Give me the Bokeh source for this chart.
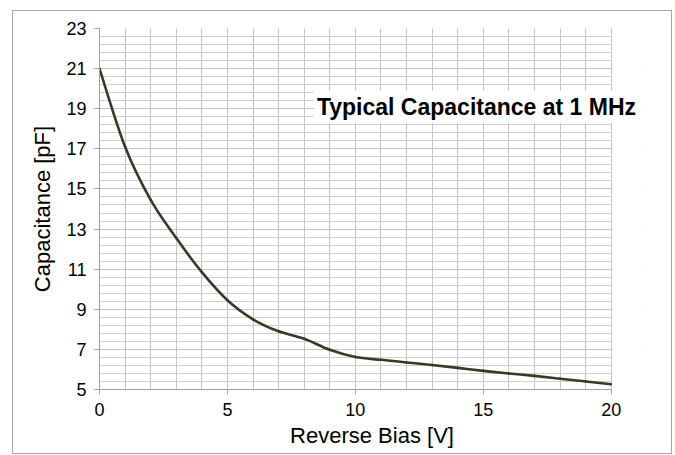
from bokeh.plotting import figure
from bokeh.models import Range1d, FixedTicker, Label, BoxAnnotation, Title
from bokeh.embed import file_html
from bokeh.resources import INLINE

# data (Excel-style smoothed line through these points)
bias_v = [0, 1, 2, 3, 4, 5, 6, 7, 8, 9, 10, 11, 12, 13, 14, 15, 16, 17, 18, 19, 20]
cap_pf = [21.0, 17.1, 14.45, 12.55, 10.85, 9.45, 8.5, 7.9, 7.53, 6.98, 6.62,
          6.48, 6.35, 6.22, 6.08, 5.93, 5.8, 5.68, 5.54, 5.4, 5.26]

x_major = [0, 5, 10, 15, 20]
x_minor = list(range(0, 21))
y_major = [5, 7, 9, 11, 13, 15, 17, 19, 21, 23]
y_minor = [round(5 + 0.4 * i, 1) for i in range(46)]

title_text = "Typical Capacitance at 1 MHz"
x_title = "Reverse Bias [V]"
y_title = "Capacitance [pF]"

FONT = "Liberation Sans"

p = figure(width=660, height=444, output_backend="svg", toolbar_location=None,
           x_range=Range1d(0, 21.3), y_range=Range1d(5, 23),
           min_border_left=86, min_border_right=29, min_border_top=17, min_border_bottom=66)
p.margin = (10, 0, 0, 12)
p.styles = {"border": "1px solid #a6a6a6"}
p.outline_line_color = None
p.background_fill_color = "white"
p.border_fill_color = "white"

# axes
for ax in (p.xaxis[0], p.yaxis[0]):
    ax.axis_line_color = "#a0a0a0"
    ax.major_tick_line_color = "#a0a0a0"
    ax.major_tick_in = 0
    ax.major_tick_out = 5
    ax.minor_tick_in = 0
    ax.minor_tick_out = 0
    ax.major_label_text_font = FONT
    ax.major_label_text_font_size = "18px"
    ax.major_label_text_color = "#000000"

p.xaxis.ticker = FixedTicker(ticks=x_major, minor_ticks=x_minor)
p.xaxis.bounds = (0, 20)
p.yaxis.ticker = FixedTicker(ticks=y_major, minor_ticks=y_minor)
p.xaxis.major_label_standoff = 8
p.yaxis.major_label_standoff = 8

p.yaxis.axis_label = y_title
p.yaxis.axis_label_text_font = FONT
p.yaxis.axis_label_text_font_size = "22px"
p.yaxis.axis_label_text_font_style = "normal"
p.yaxis.axis_label_text_color = "#000000"
p.yaxis.axis_label_standoff = 8

# grid
p.xgrid.grid_line_color = "#c4c4c4"
p.xgrid.minor_grid_line_color = "#c4c4c4"
p.ygrid.grid_line_color = "#c4c4c4"
p.ygrid.minor_grid_line_color = "#d0d0d0"

# white mask for the area right of x = 20 (the chart's grid stops there)
p.add_layout(BoxAnnotation(left=20.03, fill_color="white", fill_alpha=1.0,
                           line_color=None, level="glyph"))

# smoothed curve (Catmull-Rom style Bezier segments through the read points)
n = len(bias_v)
x0, y0, x1, y1, cx0, cy0, cx1, cy1 = [], [], [], [], [], [], [], []
for i in range(n - 1):
    im1 = max(i - 1, 0)
    ip2 = min(i + 2, n - 1)
    x0.append(bias_v[i]); y0.append(cap_pf[i])
    x1.append(bias_v[i + 1]); y1.append(cap_pf[i + 1])
    cx0.append(bias_v[i] + (bias_v[i + 1] - bias_v[im1]) / 6)
    cy0.append(cap_pf[i] + (cap_pf[i + 1] - cap_pf[im1]) / 6)
    cx1.append(bias_v[i + 1] - (bias_v[ip2] - bias_v[i]) / 6)
    cy1.append(cap_pf[i + 1] - (cap_pf[ip2] - cap_pf[i]) / 6)
p.bezier(x0=x0, y0=y0, x1=x1, y1=y1, cx0=cx0, cy0=cy0, cx1=cx1, cy1=cy1,
         line_color="#3d3826", line_width=2.6, line_cap="round")

# title box
p.add_layout(Label(x=8.38, y=19.1, text=title_text, text_font=FONT, text_font_size="23px",
                   text_font_style="bold", text_color="#000000", text_baseline="middle",
                   text_align="left", background_fill_color="white", padding=3))

# x axis title
p.add_layout(Title(text=x_title, align="center", offset=7, standoff=5,
                   text_font=FONT, text_font_size="22px", text_font_style="normal",
                   text_color="#000000"), "below")

open("out.html", "w").write(file_html(p, INLINE))
